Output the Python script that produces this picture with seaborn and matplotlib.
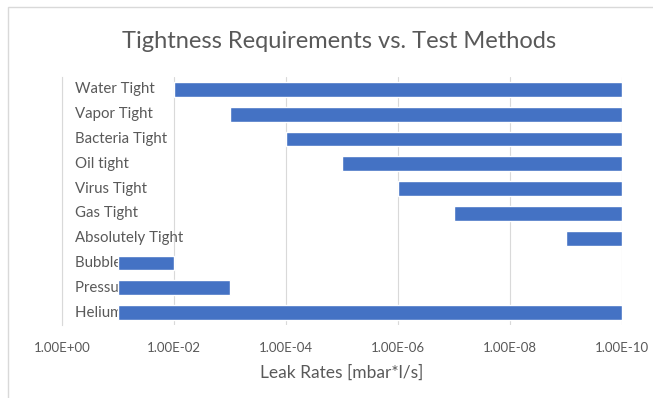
import matplotlib
matplotlib.use("Agg")
import matplotlib.pyplot as plt
from matplotlib.patches import Rectangle
import seaborn as sns
import pandas as pd

categories = ["Water Tight", "Vapor Tight", "Bacteria Tight", "Oil tight",
              "Virus Tight", "Gas Tight", "Absolutely Tight", "Bubble Tests",
              "Pressure Drop Test", "Helium Leak Detection"]
# leak-rate range of each requirement / method, in mbar*l/s
range_high = [1e-2, 1e-3, 1e-4, 1e-5, 1e-6, 1e-7, 1e-9, 1e-1, 1e-1, 1e-1]
range_low = [1e-10, 1e-10, 1e-10, 1e-10, 1e-10, 1e-10, 1e-10, 1e-2, 1e-3, 1e-10]
tick_values = [1e0, 1e-2, 1e-4, 1e-6, 1e-8, 1e-10]
tick_labels = ["1.00E+00", "1.00E-02", "1.00E-04", "1.00E-06", "1.00E-08", "1.00E-10"]

df = pd.DataFrame({"category": categories, "high": range_high, "low": range_low})

sns.set_theme(style="white")
plt.rcParams["font.family"] = ["Lato", "DejaVu Sans"]

TEXT = "#595959"
GRID = "#D9D9D9"
BAR = "#4472C4"

fig = plt.figure(figsize=(6.53, 3.98), dpi=100)
fig.patch.set_facecolor("white")
fig.patches.append(Rectangle((8 / 653, -0.05), 1.0, 1 - 7 / 398 + 0.05,
                             transform=fig.transFigure, fill=False,
                             edgecolor=GRID, linewidth=1.0))

ax = fig.add_axes([62 / 653, 1 - 325 / 398, (622 - 62) / 653, (325 - 77) / 398])
ax.set_xscale("log")

pos = range(len(df))
ax.barh(list(pos), df["high"] - df["low"], left=df["low"], height=0.6,
        color=BAR, zorder=3)

ax.set_xlim(1e0, 1e-10)
ax.set_ylim(len(df) - 0.5, -0.5)

for i, name in enumerate(df["category"]):
    ax.text(0.023, i, name, transform=ax.get_yaxis_transform(),
            ha="left", va="center", fontsize=10.8, color=TEXT, zorder=2)

ax.set_xticks(tick_values)
ax.set_xticklabels(tick_labels)
ax.minorticks_off()
ax.set_yticks([])
ax.tick_params(axis="x", length=0, labelsize=9.5, labelcolor=TEXT, pad=12)
ax.grid(axis="x", color=GRID, linewidth=0.8, zorder=0)
ax.set_axisbelow(True)
for s in ["top", "right", "bottom"]:
    ax.spines[s].set_visible(False)
ax.spines["left"].set_color(GRID)
ax.spines["left"].set_linewidth(0.8)

ax.set_xlabel("Leak Rates [mbar*l/s]", fontsize=12.5, color=TEXT, labelpad=8)
fig.text(339 / 653, 1 - 42 / 398, "Tightness Requirements vs. Test Methods",
         ha="center", va="center", fontsize=17, color=TEXT)

fig.savefig("out.png", dpi=100, facecolor="white")
